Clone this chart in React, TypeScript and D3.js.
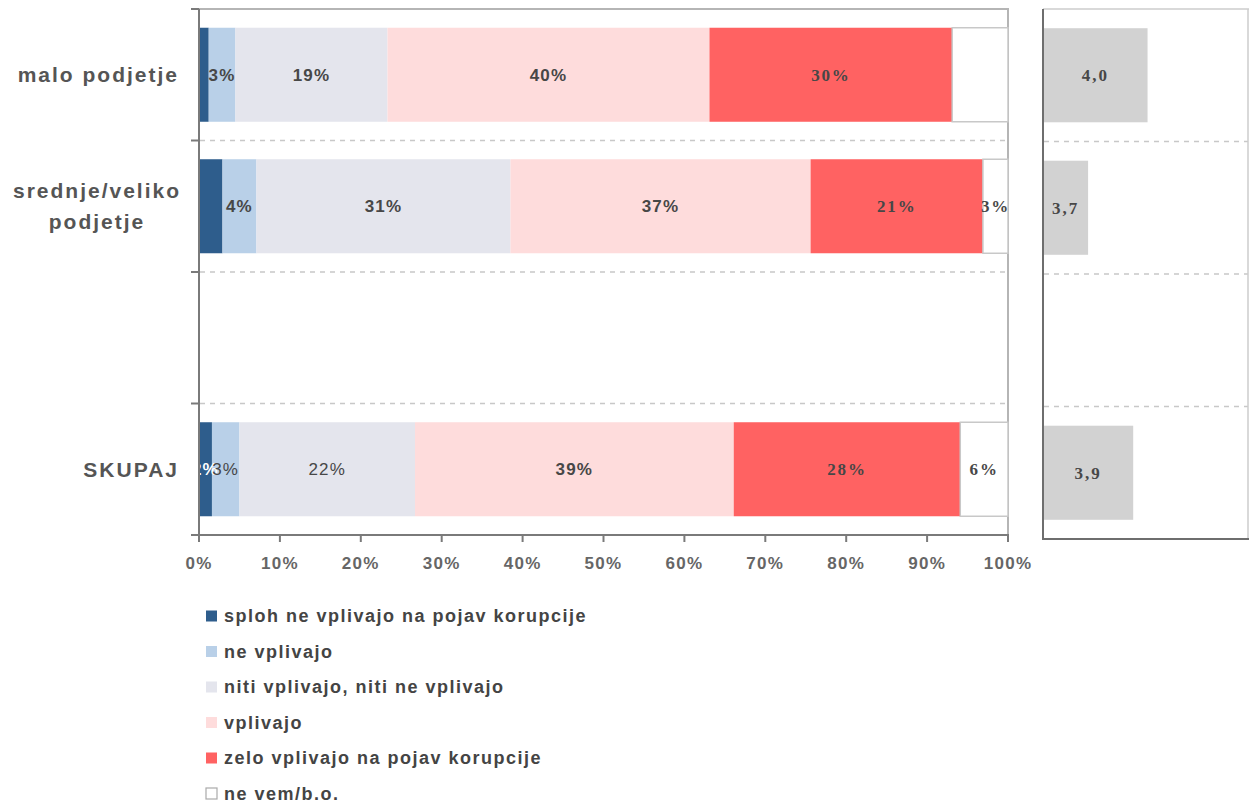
import React from "react";
import * as d3 from "d3";

const categories = ["malo podjetje", "srednje/veliko\npodjetje", "", "SKUPAJ"];
const seriesNames = [
  "sploh ne vplivajo na pojav korupcije",
  "ne vplivajo",
  "niti vplivajo, niti ne vplivajo",
  "vplivajo",
  "zelo vplivajo na pojav korupcije",
  "ne vem/b.o.",
];
const seriesColors = ["#2e5d8c", "#b9d0e8", "#e4e5ed", "#fedcdc", "#ff6262", "#ffffff"];

// values per series across categories (percent)
const splohNe = [1.2, 2.9, null, 1.6];
const neVplivajo = [3.3, 4.2, null, 3.4];
const niti = [18.8, 31.4, null, 21.7];
const vplivajo = [39.8, 37.1, null, 39.4];
const zelo = [30.0, 21.3, null, 28.0];
const neVem = [6.9, 3.1, null, 5.9];
const seriesValues = [splohNe, neVplivajo, niti, vplivajo, zelo, neVem];

// which segment labels are printed, per category
const labelShown = [
  [false, true, true, true, true, false],
  [false, true, true, true, true, true],
  [false, false, false, false, false, false],
  [true, true, true, true, true, true],
];

// mean scores (right panel)
const means = [4.01, 3.72, null, 3.94];
const meanLabels = ["4,0", "3,7", "", "3,9"];

const xTicks = [0, 10, 20, 30, 40, 50, 60, 70, 80, 90, 100];

const W = 1254;
const H = 805;
const sans = "'Liberation Sans', Arial, sans-serif";
const serif = "'Liberation Serif', 'Times New Roman', serif";

export default function App() {
  const x = d3.scaleLinear().domain([0, 100]).range([199, 1008]);
  const y = d3
    .scaleBand<number>()
    .domain(d3.range(categories.length))
    .range([9, 535])
    .paddingInner(0.285)
    .paddingOuter(0.1425);
  const slot = d3.scaleBand<number>().domain(d3.range(categories.length)).range([9, 535]);

  const xm = d3.scaleLinear().domain([3.5, 4.5]).range([1043, 1248]);
  const ym = d3
    .scaleBand<number>()
    .domain(d3.range(categories.length))
    .range([9, 539])
    .paddingInner(0.29)
    .paddingOuter(0.145);
  const slotM = d3.scaleBand<number>().domain(d3.range(categories.length)).range([9, 539]);

  const stacks = categories.map((_, ci) => {
    let acc = 0;
    return seriesValues.map((vals, si) => {
      const v = vals[ci];
      const start = acc;
      if (v != null) acc += v;
      return { si, v, start, end: acc };
    });
  });

  const textColor = "#474747";

  return (
    <div>
      <style>{`body{margin:0;overflow:hidden}`}</style>
      <svg width={W} height={H} style={{ display: "block", background: "#fff" }}>
        {/* main grid dashed lines */}
        {d3.range(1, categories.length).map((i) => (
          <line
            key={"dg" + i}
            x1={200}
            x2={1008}
            y1={slot(i)!}
            y2={slot(i)!}
            stroke="#c8c8c8"
            strokeWidth={1.5}
            strokeDasharray="5,5"
          />
        ))}
        {/* frame top/right */}
        <line x1={199} x2={1009} y1={9} y2={9} stroke="#b5b5b5" strokeWidth={2} />
        <line x1={1008} x2={1008} y1={9} y2={535} stroke="#b5b5b5" strokeWidth={2} />

        {/* bars */}
        {stacks.map((segs, ci) =>
          segs.map((s) =>
            s.v == null ? null : (
              <rect
                key={`b${ci}-${s.si}`}
                x={x(s.start)}
                y={y(ci)!}
                width={x(s.end) - x(s.start)}
                height={y.bandwidth()}
                fill={seriesColors[s.si]}
                stroke={s.si === 5 ? "#c8c8c8" : "none"}
                strokeWidth={s.si === 5 ? 1.5 : 0}
              />
            )
          )
        )}
        {/* segment labels */}
        {stacks.map((segs, ci) =>
          segs.map((s) => {
            if (s.v == null || !labelShown[ci][s.si]) return null;
            const isSerif = s.si >= 4;
            const normal = ci === 3 && (s.si === 1 || s.si === 2);
            return (
              <text
                key={`l${ci}-${s.si}`}
                x={(x(s.start) + x(s.end)) / 2}
                y={y(ci)! + y.bandwidth() / 2}
                dy="0.35em"
                textAnchor="middle"
                fontFamily={isSerif ? serif : sans}
                fontWeight={normal ? 400 : 700}
                fontSize={17}
                letterSpacing={isSerif ? 1.8 : 1.2}
                fill={s.si === 0 ? "#ffffff" : textColor}
              >
                {Math.round(s.v) + "%"}
              </text>
            );
          })
        )}

        {/* left axis */}
        <line x1={199} x2={199} y1={9} y2={536} stroke="#7a7a7a" strokeWidth={2} />
        {d3.range(0, categories.length + 1).map((i) => {
          const yy = i === categories.length ? 535 : slot(i)!;
          return <line key={"lt" + i} x1={191} x2={199} y1={yy} y2={yy} stroke="#7a7a7a" strokeWidth={2} />;
        })}
        {/* bottom axis */}
        <line x1={198} x2={1009} y1={535} y2={535} stroke="#7a7a7a" strokeWidth={2} />
        {xTicks.map((t) => (
          <g key={"xt" + t}>
            <line x1={x(t)} x2={x(t)} y1={535} y2={542} stroke="#7a7a7a" strokeWidth={2} />
            <text
              x={x(t)}
              y={563}
              dy="0.35em"
              textAnchor="middle"
              fontFamily={sans}
              fontWeight={700}
              fontSize={17}
              letterSpacing={1.3}
              fill="#666"
            >
              {t + "%"}
            </text>
          </g>
        ))}

        {/* category labels */}
        {categories.map((c, ci) => {
          const lines = c.split("\n");
          if (!c) return null;
          const cy = y(ci)! + y.bandwidth() / 2;
          if (lines.length === 1) {
            return (
              <text
                key={"c" + ci}
                x={179}
                y={cy}
                dy="0.35em"
                textAnchor="end"
                fontFamily={sans}
                fontWeight={700}
                fontSize={21}
                letterSpacing={2}
                fill="#555"
              >
                {c}
              </text>
            );
          }
          return (
            <text
              key={"c" + ci}
              textAnchor="middle"
              fontFamily={sans}
              fontWeight={700}
              fontSize={21}
              letterSpacing={2}
              fill="#555"
            >
              {lines.map((ln, li) => (
                <tspan key={li} x={97} y={cy + (li - (lines.length - 1) / 2) * 31} dy="0.35em">
                  {ln}
                </tspan>
              ))}
            </text>
          );
        })}

        {/* right panel */}
        {d3.range(1, categories.length).map((i) => (
          <line
            key={"rg" + i}
            x1={1044}
            x2={1248}
            y1={slotM(i)!}
            y2={slotM(i)!}
            stroke="#c8c8c8"
            strokeWidth={1.5}
            strokeDasharray="5,5"
          />
        ))}
        <line x1={1043} x2={1249} y1={9} y2={9} stroke="#cccccc" strokeWidth={1.5} />
        <line x1={1248} x2={1248} y1={9} y2={539} stroke="#cccccc" strokeWidth={1.5} />
        {means.map((m, ci) =>
          m == null ? null : (
            <g key={"m" + ci}>
              <rect
                x={xm(3.5)}
                y={ym(ci)!}
                width={xm(m) - xm(3.5)}
                height={ym.bandwidth()}
                fill="#d2d2d2"
              />
              <text
                x={(xm(3.5) + xm(m)) / 2}
                y={ym(ci)! + ym.bandwidth() / 2}
                dy="0.35em"
                textAnchor="middle"
                fontFamily={serif}
                fontWeight={700}
                fontSize={17}
                letterSpacing={2}
                fill={textColor}
              >
                {meanLabels[ci]}
              </text>
            </g>
          )
        )}
        <line x1={1043} x2={1043} y1={9} y2={540} stroke="#6e6e6e" strokeWidth={2} />
        <line x1={1042} x2={1249} y1={539} y2={539} stroke="#6e6e6e" strokeWidth={2} />

        {/* legend */}
        {seriesNames.map((n, i) => {
          const ly = 616 + i * 35.5;
          return (
            <g key={"lg" + i}>
              <rect
                x={206}
                y={ly - 5.5}
                width={11}
                height={11}
                fill={seriesColors[i]}
                stroke={i === 5 ? "#aaaaaa" : "none"}
                strokeWidth={i === 5 ? 1.2 : 0}
              />
              <text
                x={224}
                y={ly}
                dy="0.35em"
                fontFamily={sans}
                fontWeight={700}
                fontSize={18}
                letterSpacing={1.5}
                fill="#444"
              >
                {n}
              </text>
            </g>
          );
        })}
      </svg>
    </div>
  );
}
